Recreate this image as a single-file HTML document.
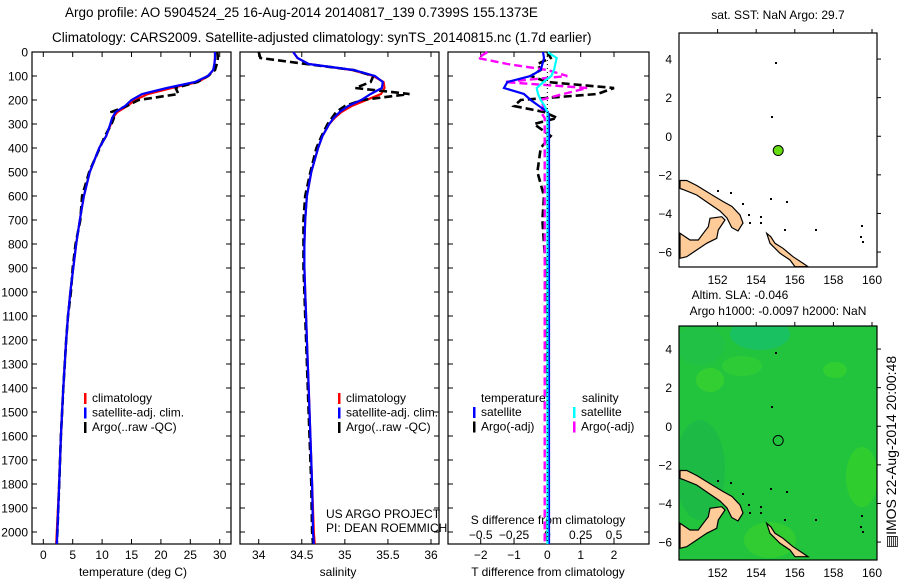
<!DOCTYPE html>
<html><head><meta charset="utf-8">
<style>
html,body{margin:0;padding:0;background:#fff;}
svg{display:block;font-family:"Liberation Sans",sans-serif;}
</style></head>
<body>
<svg id="fig" width="900" height="580" viewBox="0 0 900 580" xmlns="http://www.w3.org/2000/svg">
<text x="65" y="17" font-size="13.5">Argo profile: AO 5904524_25 16-Aug-2014 20140817_139 0.7399S 155.1373E</text>
<text x="52" y="42" font-size="13.5">Climatology: CARS2009. Satellite-adjusted climatology: synTS_20140815.nc (1.7d earlier)</text>
<g id="plots"></g>
</svg>
<script>
// ---------- data ----------
const depths = [0,25,50,75,100,125,150,175,200,225,250,275,300,350,400,500,600,700,800,900,1000,1100,1200,1400,1600,1800,2000,2050];
const tempSat = [29.2,29.2,29.1,28.9,28.0,25.8,21.0,16.8,15.0,13.9,12.3,11.7,11.4,10.7,9.5,7.9,6.9,6.2,5.6,5.1,4.6,4.2,3.9,3.4,3.0,2.7,2.4,2.3];
const tempClim = [29.2,29.2,29.1,28.9,28.1,26.3,21.8,17.8,15.6,14.3,12.6,11.8,11.5,10.7,9.5,7.9,6.9,6.2,5.6,5.1,4.6,4.2,3.9,3.4,3.0,2.7,2.3,2.2];
const tempArgo = [29.6,29.7,29.5,29.2,28.0,26.2,22.5,23.0,16.2,14.2,11.6,12.0,11.6,10.5,9.6,7.8,6.6,6.3,5.5,5.0,4.7,4.2,3.9,3.4,3.0,2.7,2.4,2.3];
const salSat = [34.40,34.45,34.58,35.10,35.35,35.44,35.43,35.30,35.19,35.04,34.94,34.87,34.82,34.74,34.69,34.61,34.56,34.54,34.53,34.53,34.54,34.55,34.56,34.58,34.60,34.62,34.63,34.64];
const salClim = [34.40,34.45,34.58,35.08,35.33,35.45,35.46,35.42,35.25,35.08,34.96,34.88,34.82,34.74,34.69,34.61,34.56,34.54,34.53,34.53,34.54,34.55,34.56,34.58,34.60,34.62,34.64,34.65];
const salArgo = [34.00,34.02,34.55,35.10,35.33,35.30,35.12,35.75,35.20,35.00,34.90,34.85,34.80,34.73,34.67,34.60,34.54,34.52,34.52,34.52,34.53,34.54,34.55,34.57,34.59,34.61,34.62,34.63];
const tDiffSat = [-0.13,-0.10,-0.15,-0.20,-0.50,-1.20,-1.30,-0.70,-0.50,-0.25,0.02,0.05,0.05,0.05,0.05,0.05,0.05,0.05,0.05,0.05,0.05,0.05,0.05,0.05,0.05,0.05,0.05,0.05];
const tDiffArgo = [0.0,0.1,-0.3,-0.2,-0.5,0.0,2.0,1.5,-0.8,-1.0,-0.1,0.3,-0.4,0.1,-0.2,-0.3,-0.1,-0.15,-0.1,-0.05,-0.05,0.0,-0.02,0.0,0.02,0.03,0.0,0.0];
const sDiffSat = [0.0,0.07,0.06,0.05,0.03,-0.03,-0.08,-0.07,-0.05,-0.02,0.0,0.0,0.0,0.0,0.0,0.0,0.0,0.0,0.0,0.0,0.0,0.0,0.0,0.0,0.0,0.0,0.0,0.0];
const sDiffArgo = [-0.45,-0.52,-0.30,0.0,0.15,-0.32,0.30,0.12,-0.05,-0.03,-0.05,-0.02,-0.02,-0.02,-0.02,-0.02,-0.02,-0.02,-0.02,-0.02,-0.02,-0.02,-0.02,-0.02,-0.02,-0.02,-0.02,-0.02];
const depthTicks = [0,100,200,300,400,500,600,700,800,900,1000,1100,1200,1300,1400,1500,1600,1700,1800,1900,2000];
const tempTicks = [0,5,10,15,20,25,30];
const salTicks = [34,34.5,35,35.5,36];
const tDiffTicks = [-2,-1,0,1,2];
const sDiffTicks = [-0.5,-0.25,0,0.25,0.5];
const sDiffTickLabels = ["\u22120.5","\u22120.25","0","0.25","0.5"];
const lonTicks = [152,154,156,158,160];
const latTicks = [4,2,0,-2,-4,-6];
const argoLon = 155.14, argoLat = -0.74;

// ---------- helpers ----------
const NS = "http://www.w3.org/2000/svg";
const root = document.getElementById('plots');
function el(tag, attrs, parent){const e=document.createElementNS(NS,tag);for(const k in attrs)e.setAttribute(k,attrs[k]);(parent||root).appendChild(e);return e;}
function txt(x,y,s,size,anchor,parent){const t=el('text',{x:x,y:y,'font-size':size||12,'text-anchor':anchor||'start'},parent);t.textContent=s;return t;}

const TOP=52, BOT=544;
const yD = d => TOP + d*(BOT-TOP)/2050;
function xLin(v0,v1,p0,p1){return v=>p0+(v-v0)*(p1-p0)/(v1-v0);}

function panel(name,x0,x1){
  const g=el('g',{});
  
  
  const r=el('rect',{x:x0,y:TOP,width:x1-x0,height:BOT-TOP,fill:'#fff',stroke:'#000','stroke-width':1.2},g);
  
  
  depthTicks.forEach(d=>{
    el('line',{x1:x0,x2:x0+5,y1:yD(d),y2:yD(d),stroke:'#000'},g);
    el('line',{x1:x1,x2:x1-5,y1:yD(d),y2:yD(d),stroke:'#000'},g);
  });
  return g;
}
function line(g,xs,ys,fx,color,name,dash,w){
  const pts=xs.map((v,i)=>fx(v).toFixed(1)+','+yD(ys[i]).toFixed(1)).join(' ');
  const p=el('polyline',{points:pts,fill:'none',stroke:color,'stroke-width':w||2.2},g);
  if(dash)p.setAttribute('stroke-dasharray',dash);
  
  
}
function legend(g,x,y,items){
  items.forEach((it,i)=>{
    el('rect',{x:x,y:y+i*14.5-9,width:2.5,height:11,fill:it[0]},g);
    const t=txt(x+8,y+i*14.5,it[1],12,'start',g);
    
    
  });
}

// ---------- panel 1: temperature ----------
const xT = xLin(0,30,43.3,219.7);
const g1=panel('temperature-panel',32,231);
depthTicks.forEach(d=>{const t=txt(28,yD(d)+4.5,String(d),12,'end',g1);});
tempTicks.forEach(v=>{el('line',{x1:xT(v),x2:xT(v),y1:BOT,y2:BOT-5,stroke:'#000'},g1);el('line',{x1:xT(v),x2:xT(v),y1:TOP,y2:TOP+5,stroke:'#000'},g1);const t=txt(xT(v),559,String(v),12,'middle',g1);});
{const t=txt(133,576,'temperature (deg C)',12,'middle',g1);}
line(g1,tempClim,depths,xT,'#ff0000','temp-climatology-line');
line(g1,tempArgo,depths,xT,'#000','temp-argo-line','8,4',2.6);
line(g1,tempSat,depths,xT,'#0000ff','temp-satellite-line');
legend(g1,84,402,[['#ff0000','climatology'],['#0000ff','satellite-adj. clim.'],['#000','Argo(..raw -QC)']]);

// ---------- panel 2: salinity ----------
const xS = xLin(34,36,258.7,431);
const g2=panel('salinity-panel',240,439);
salTicks.forEach(v=>{el('line',{x1:xS(v),x2:xS(v),y1:BOT,y2:BOT-5,stroke:'#000'},g2);el('line',{x1:xS(v),x2:xS(v),y1:TOP,y2:TOP+5,stroke:'#000'},g2);const t=txt(xS(v),559,String(v),12,'middle',g2);});
{const t=txt(338,576,'salinity',12,'middle',g2);}
line(g2,salClim,depths,xS,'#ff0000','sal-climatology-line');
line(g2,salArgo,depths,xS,'#000','sal-argo-line','8,4',2.6);
line(g2,salSat,depths,xS,'#0000ff','sal-satellite-line');
legend(g2,338,402,[['#ff0000','climatology'],['#0000ff','satellite-adj. clim.'],['#000','Argo(..raw -QC)']]);
{const t=txt(326,518,'US ARGO PROJECT',12,'start',g2);
 const t2=txt(326,532,'PI: DEAN ROEMMICH',12,'start',g2);}

// ---------- panel 3: differences ----------
const xTD = xLin(-2,2,480.7,614);
const xSD = xLin(-0.5,0.5,480.7,614);
const g3=panel('difference-panel',448,649);
tDiffTicks.forEach(v=>{el('line',{x1:xTD(v),x2:xTD(v),y1:BOT,y2:BOT-5,stroke:'#000'},g3);el('line',{x1:xTD(v),x2:xTD(v),y1:TOP,y2:TOP+5,stroke:'#000'},g3);const t=txt(xTD(v),559,String(v).replace('-','\u2212'),12,'middle',g3);});
sDiffTicks.forEach((v,i)=>{const t=txt(xSD(v),539,sDiffTickLabels[i],12,'middle',g3);});
{const t=txt(548,524,'S difference from climatology',12,'middle',g3);
 const t2=txt(548,576,'T difference from climatology',12,'middle',g3);}
line(g3,tDiffArgo,depths,xTD,'#000','t-diff-argo-line','8,4',2.6);
line(g3,sDiffArgo,depths,xSD,'#ff00ff','s-diff-argo-line','8,4',2.4);
line(g3,tDiffSat,depths,xTD,'#0000ff','t-diff-satellite-line');
line(g3,sDiffSat,depths,xSD,'#00ffff','s-diff-satellite-line');
el('line',{x1:xTD(0),x2:xTD(0),y1:TOP,y2:BOT,stroke:'#000','stroke-dasharray':'1,3'},g3);
{const t=txt(481,402,'temperature',12,'start',g3);
 const t2=txt(582,402,'salinity',12,'start',g3);}
legend(g3,473,416,[['#0000ff','satellite'],['#000','Argo(-adj)']]);
legend(g3,573,416,[['#00ffff','satellite'],['#ff00ff','Argo(-adj)']]);

// ---------- maps ----------
const LON0=150, LAT0=5.35, PPD=19.3;
const newIreland=[[680,180.5],[686.7,180.5],[696.7,185.5],[713,195.5],[723,201.5],[732,206.5],[740,215],[743,223],[738,231],[731.7,227.5],[727,218],[720,211],[709,203.5],[696.7,195],[683,189.5],[680,188.5]];
const newBritain=[[680,233.3],[690,240],[698.3,240],[703.3,233.3],[708.3,226.7],[710,218.3],[721.7,216.7],[725,220],[718.3,230],[716.7,238.3],[706.7,243.3],[696.7,250],[686.7,256.7],[680,258.3]];
const bougainville=[[766.7,233.3],[770,243.3],[780,253.3],[790,260],[795,266.7],[808,266.7],[803,263.3],[793,256.7],[783,248.3],[775,243.3],[770.7,236.7]];
const islets=[[775,62],[771,116],[717,190],[730,192],[742,203],[760,216],[770,198],[786,201],[748,214],[749,222],[760,222],[784,229],[815,229],[861,225],[860,236],[862,241]];
function map(name,top,landShift,titleLines,field){
  const L=679,R=877,H=234;
  const g=el('g',{});
  
  
  const cp=el('clipPath',{id:name+'-clip'},g);el('rect',{x:L,y:top,width:R-L,height:H},cp);
  const inner=el('g',{'clip-path':'url(#'+name+'-clip)'},g);
  el('rect',{x:L,y:top,width:R-L,height:H,fill:field?'#22c43e':'#fff'},inner);
  if(field){
    const blobs=[[760,334,30,16,'#14bf7a'],[700,470,25,50,'#1bb64c'],[710,380,14,12,'#3fd52a'],[742,366,20,10,'#35d030'],[862,477,16,30,'#3bd425'],[770,540,26,18,'#3ad22a'],[700,345,25,20,'#20c04a'],[835,370,12,8,'#3ad52a']];
    blobs.forEach(b=>el('ellipse',{cx:b[0],cy:b[1],rx:b[2],ry:b[3],fill:b[4],opacity:0.6},inner));
  }
  [newIreland,newBritain,bougainville].forEach((poly,i)=>{
    const p=el('polygon',{points:poly.map(q=>q[0]+','+(q[1]+landShift)).join(' '),fill:'#ffcc99',stroke:'#000','stroke-width':1.2},inner);
    
    
  });
  islets.forEach(q=>el('rect',{x:q[0],y:q[1]+landShift,width:2,height:2,fill:'#000'},inner));
  const lat0y = top + (LAT0 - 0)*PPD - (field?3:0);
  const xLon=lon=>L+(lon-LON0)*PPD;
  const yLat=lat=>lat0y-lat*PPD;
  const c=el('circle',{cx:xLon(argoLon),cy:yLat(argoLat),r:5,fill:field?'none':'#66dd11',stroke:'#000','stroke-width':1},g);
  
  
  el('rect',{x:L,y:top,width:R-L,height:H,fill:'none',stroke:'#000','stroke-width':1.2},g);
  lonTicks.forEach(v=>{el('line',{x1:xLon(v),x2:xLon(v),y1:top,y2:top-4,stroke:'#000'},g);const t=txt(xLon(v),top+H+17,String(v),12,'middle',g);});
  latTicks.forEach(v=>{el('line',{x1:R,x2:R+4,y1:yLat(v),y2:yLat(v),stroke:'#000'},g);const t=txt(L-7,yLat(v)+4.5,String(v).replace('-','\u2212'),12,'end',g);});
  titleLines.forEach((s,i)=>{const t=txt(titleLines.length>1&&i==0?740:778,top-(titleLines.length-i)*16+(titleLines.length>1?3:0)+2,s,12,'middle',g);});
}
map('sst-map',33,0,['sat. SST: NaN Argo: 29.7'],false);
map('sla-map',326,290,['Altim. SLA: -0.046','Argo h1000: -0.0097 h2000: NaN'],true);
{const t=el('text',{x:0,y:0,'font-size':14,'text-anchor':'middle',transform:'translate(896,452) rotate(-90)'});t.textContent='\u25A4IMOS 22-Aug-2014 20:00:48';}
</script>
</body></html>
